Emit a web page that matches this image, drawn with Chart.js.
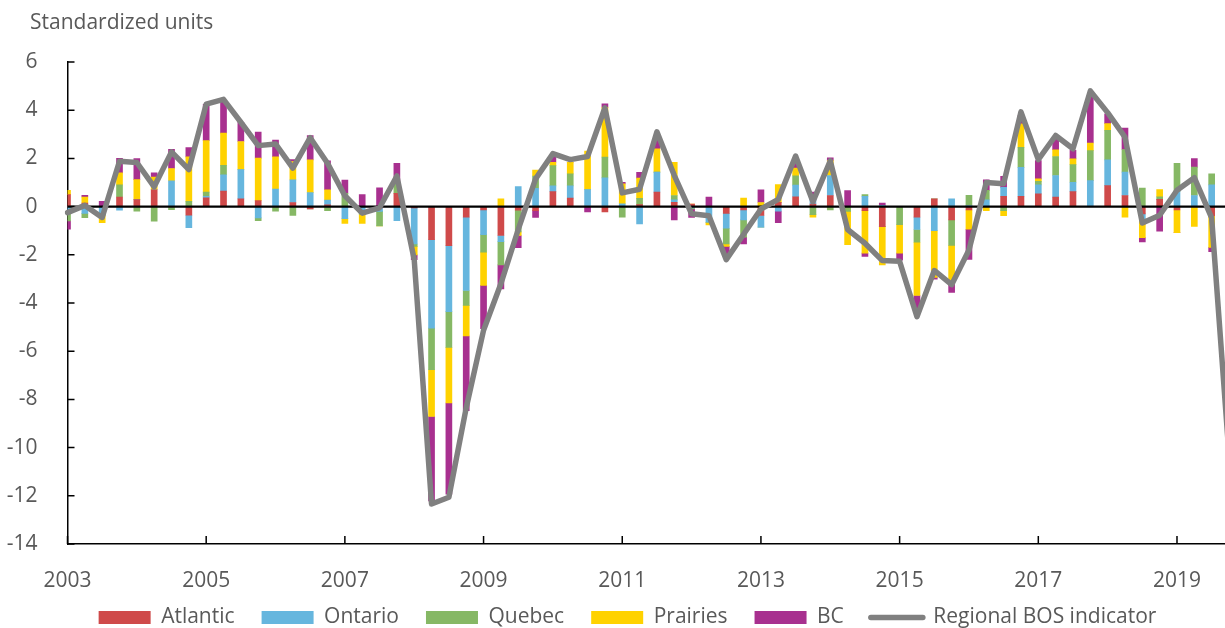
<!DOCTYPE html>
<html><head><meta charset="utf-8">
<script src="https://cdn.jsdelivr.net/npm/chart.js@4/dist/chart.umd.min.js"></script>
<style>html,body{margin:0;padding:0;overflow:hidden;background:#fff;width:1225px;height:628px}canvas{display:block}</style>
</head><body>
<canvas id="c" width="1255" height="662"></canvas>
<script>
const categories = [];
for (let yr = 2003; yr <= 2019; yr++) for (let q = 1; q <= 4; q++) categories.push(yr + 'Q' + q);

const atlantic = [0.50,0.15,0.00,0.40,0.29,0.70,0.00,-0.36,0.36,0.64,0.32,0.25,0.00,0.17,-0.10,0.07,
  0.00,0.00,-0.05,0.55,-0.05,-1.37,-1.62,-0.44,-0.14,-1.20,-0.15,-0.17,0.62,0.35,0.00,-0.22,
  0.00,0.08,0.60,0.18,0.10,0.00,-0.28,-0.14,-0.37,0.18,0.41,0.10,0.46,0.00,-0.17,-0.83,
  0.00,-0.44,0.32,-0.55,-0.14,0.00,0.43,0.43,0.53,0.39,0.62,0.00,0.87,0.46,-0.30,0.30,
  -0.14,0.00,-0.39,null];
const ontario = [-0.15,-0.28,-0.35,-0.15,0.00,0.00,1.07,-0.51,0.07,0.68,1.22,-0.47,0.73,0.94,0.58,0.20,
  -0.50,-0.30,-0.15,-0.58,-1.50,-3.67,-2.74,-3.04,-1.02,-0.25,0.83,0.76,0.24,0.51,0.71,1.19,
  0.11,-0.72,0.83,0.10,-0.05,-0.65,-0.62,-0.41,-0.48,-0.19,0.48,0.20,0.83,0.00,0.43,0.05,
  0.00,-0.51,-1.00,0.32,0.04,0.28,0.37,1.20,0.37,0.90,0.39,1.08,1.07,0.97,-0.20,0.00,
  0.62,0.46,0.90,null];
const quebec = [-0.44,-0.18,0.00,0.50,-0.19,-0.60,-0.13,0.22,0.17,0.39,0.00,-0.11,-0.19,-0.37,0.00,-0.17,
  0.55,0.00,-0.60,0.39,-0.10,-1.73,-1.48,-0.62,-0.73,-0.97,-0.90,0.51,0.84,0.50,0.00,0.86,
  -0.44,0.26,0.00,0.18,-0.05,0.00,-0.65,-0.72,0.00,0.00,0.39,-0.33,-0.14,-0.20,0.07,0.00,
  -0.75,-0.53,0.00,-1.06,0.43,0.39,-0.17,0.83,0.15,0.79,0.73,1.24,1.22,0.94,0.77,0.11,
  1.18,1.18,0.46,null];
const prairies = [0.18,0.25,-0.32,0.50,0.83,0.53,0.51,1.84,2.14,1.34,1.16,1.76,1.34,0.76,1.36,0.43,
  -0.20,-0.40,0.00,0.00,-0.35,-1.94,-2.31,-1.27,-1.38,0.32,-0.15,0.25,0.14,0.48,1.59,2.07,
  0.83,0.84,0.97,1.38,0.00,-0.11,-0.10,0.35,0.17,0.73,0.32,-0.11,0.62,-1.38,-1.76,-1.59,
  -1.18,-2.21,-1.94,-1.60,-0.80,-0.17,-0.21,0.97,0.10,0.28,0.24,0.32,0.28,-0.44,-0.79,0.30,
  -0.94,-0.82,-1.30,null];
const bc = [-0.35,0.07,0.22,0.60,0.87,0.17,0.80,0.39,1.50,1.29,0.80,1.08,0.69,0.08,1.01,1.20,
  0.55,0.50,0.78,0.86,-0.20,-3.50,-3.78,-3.10,-1.80,-1.00,-0.50,-0.28,0.25,0.00,-0.22,0.14,
  0.07,0.24,0.45,-0.55,-0.35,0.39,-0.32,-0.28,0.53,-0.48,0.30,0.30,0.11,0.66,-0.14,0.10,
  -0.29,-0.62,-0.07,-0.35,-1.25,0.44,0.46,0.35,0.76,0.45,0.35,2.00,0.41,0.89,-0.18,-1.02,
  0.00,0.35,-0.18,null];
const bosIndicator = [-0.25,0.05,-0.45,1.88,1.83,0.82,2.27,1.54,4.25,4.45,3.50,2.53,2.60,1.60,2.86,1.80,
  0.45,-0.27,-0.05,1.27,-2.20,-12.34,-12.06,-8.35,-5.13,-3.20,-0.95,1.15,2.20,1.95,2.08,4.10,
  0.57,0.72,3.10,1.30,-0.30,-0.38,-2.20,-1.15,-0.10,0.30,2.10,0.20,1.90,-0.95,-1.52,-2.24,
  -2.27,-4.57,-2.65,-3.24,-1.80,1.00,0.95,3.93,1.95,2.95,2.40,4.80,3.90,2.88,-0.68,-0.36,
  0.68,1.20,-0.47,-10.3];
const yTickValues = {min: -14, max: 6, step: 2};
const yearTickEvery = 8;
const titleText = 'Standardized units';

const FONT = "'Open Sans', 'DejaVu Sans', sans-serif";
const TXT = '#595959';
const FS = 21;
Chart.defaults.font.family = FONT;

const decor = {
  id: 'decor',
  afterLayout(chart) {
    // move the legend row up closer to the axis labels and centre it like the original
    const lg = chart.legend;
    if (lg) { lg.top -= 24; lg.bottom -= 24; lg.left += 13; lg.right += 13; }
  },
  beforeDatasetsDraw(chart) {
    const {ctx, chartArea: a, scales: {x, y}} = chart;
    ctx.save();
    ctx.strokeStyle = '#000';
    ctx.lineWidth = 1.5;
    ctx.beginPath();
    y.ticks.forEach((t, i) => { const p = y.getPixelForTick(i); ctx.moveTo(a.left, p); ctx.lineTo(a.left + 7, p); });
    x.ticks.forEach((t, i) => {
      if (t.label === null || t.label === undefined || t.label === '') return;
      const p = x.getPixelForTick(i); ctx.moveTo(p, a.bottom); ctx.lineTo(p, a.bottom - 8);
    });
    ctx.stroke();
    ctx.restore();
  },
  beforeDatasetDraw(chart, args) {
    if (args.index !== 5) return;
    const {ctx, chartArea: a, scales: {y}} = chart;
    const y0 = y.getPixelForValue(0);
    ctx.save();
    ctx.strokeStyle = '#000';
    ctx.lineWidth = 2.2;
    ctx.beginPath(); ctx.moveTo(a.left, y0); ctx.lineTo(a.right, y0); ctx.stroke();
    ctx.restore();
  },
  afterDraw(chart) {
    const {ctx} = chart;
    ctx.save();
    ctx.font = FS + 'px ' + FONT;
    ctx.fillStyle = TXT;
    ctx.textAlign = 'left';
    ctx.textBaseline = 'middle';
    ctx.fillText(titleText, 30, 23);
    ctx.restore();
  }
};

function barSet(label, data, color) {
  return {type: 'bar', label, data, backgroundColor: color, borderWidth: 0, barThickness: 6, stack: 'regions', order: 1};
}

new Chart(document.getElementById('c'), {
  type: 'bar',
  data: {
    labels: categories,
    datasets: [
      barSet('Atlantic', atlantic, '#CF4A4A'),
      barSet('Ontario', ontario, '#66B6DE'),
      barSet('Quebec', quebec, '#86B865'),
      barSet('Prairies', prairies, '#FFD200'),
      barSet('BC', bc, '#A8308F'),
      {type: 'line', label: 'Regional BOS indicator', data: bosIndicator, borderColor: '#808080', backgroundColor: '#808080',
       borderWidth: 5.5, pointRadius: 0, pointHoverRadius: 0, tension: 0, fill: false, stack: 'line', order: 0,
       borderJoinStyle: 'round', borderCapStyle: 'round'}
    ]
  },
  options: {
    responsive: false,
    animation: false,
    devicePixelRatio: 1,
    events: [],
    layout: {padding: {left: 0, right: 26, top: 62, bottom: 0}},
    scales: {
      x: {
        type: 'category', stacked: true, offset: false,
        grid: {display: false},
        border: {display: true, color: '#000', width: 1.5},
        ticks: {
          autoSkip: false, maxRotation: 0, minRotation: 0, padding: 16, color: TXT, font: {size: FS},
          callback: function(v, i) { return i % yearTickEvery === 0 ? categories[i].slice(0, 4) : null; }
        },
        afterFit: s => { s.height = 60; }
      },
      y: {
        position: 'left', stacked: true, min: yTickValues.min, max: yTickValues.max,
        grid: {display: false},
        border: {display: true, color: '#000', width: 1.5},
        ticks: {stepSize: yTickValues.step, padding: 22, color: TXT, font: {size: FS}},
        afterFit: s => { s.width = 67.5; }
      }
    },
    plugins: {
      title: {display: false},
      legend: {
        position: 'bottom',
        labels: {
          usePointStyle: true, pointStyleWidth: 52, boxHeight: 13, padding: 27, color: TXT, font: {size: FS},
          generateLabels(chart) {
            const items = Chart.defaults.plugins.legend.labels.generateLabels(chart);
            items.forEach(it => {
              if (it.datasetIndex === 5) { it.pointStyle = 'line'; it.lineWidth = 5.5; it.strokeStyle = '#808080'; it.lineCap = 'round'; }
              else { it.pointStyle = 'rect'; it.lineWidth = 0; }
            });
            return items.sort((a, b) => a.datasetIndex - b.datasetIndex);
          }
        }
      },
      tooltip: {enabled: false}
    }
  },
  plugins: [decor]
});
</script>
</body></html>
